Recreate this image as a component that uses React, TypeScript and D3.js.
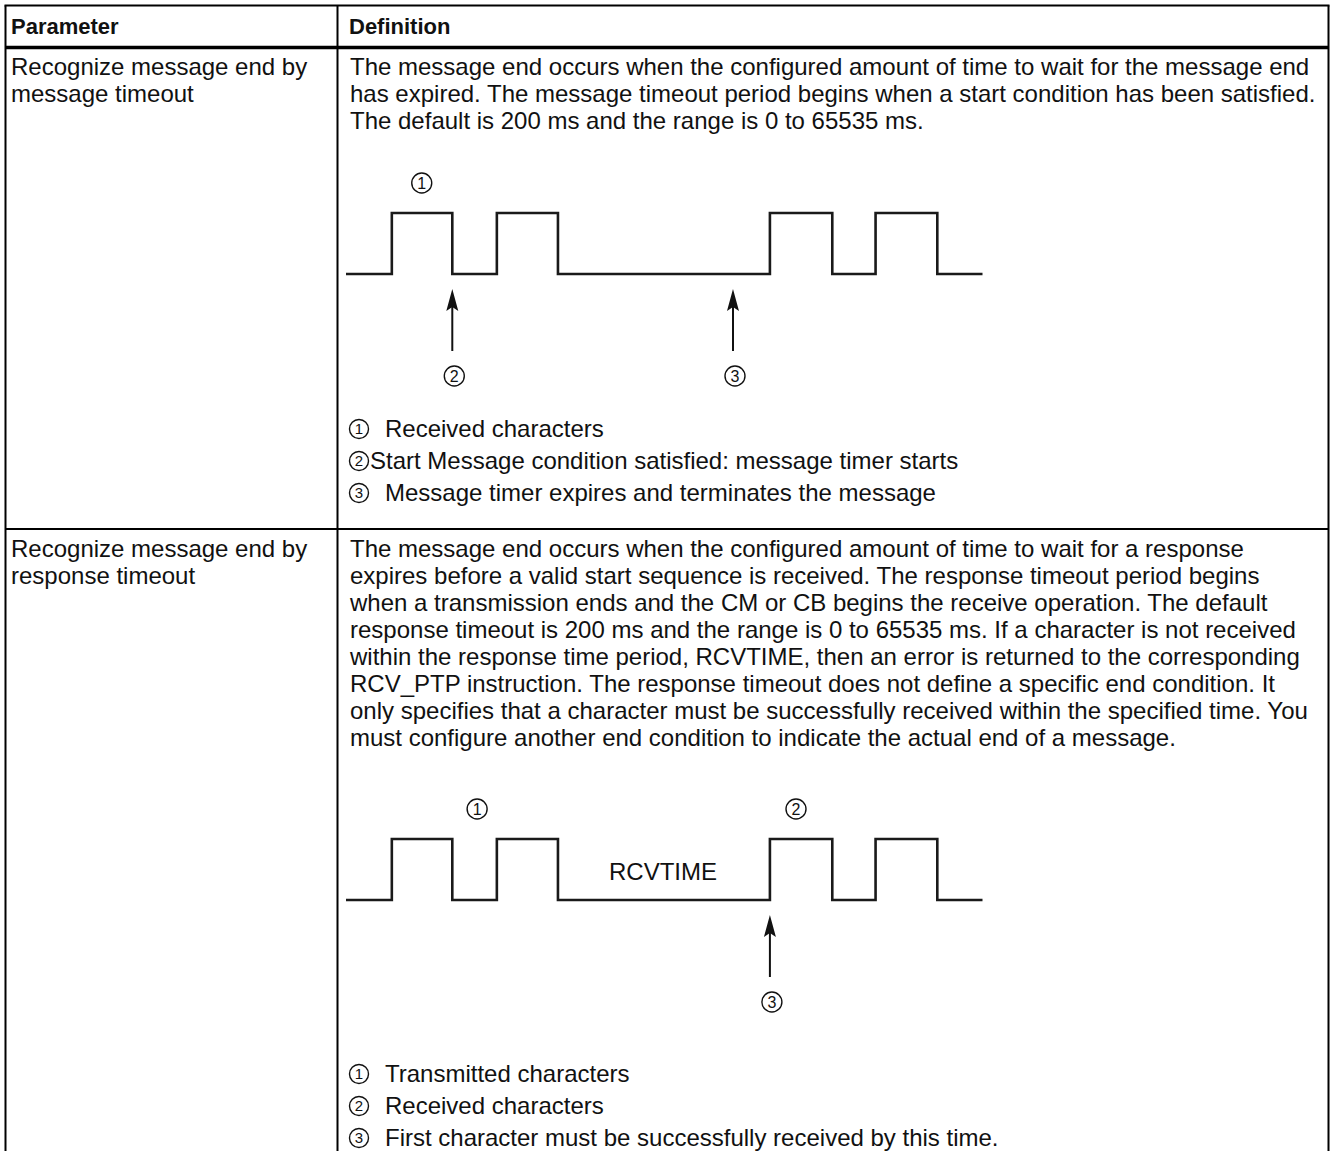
import * as d3 from "d3";

// table texts
const headers = ["Parameter", "Definition"];
const paramRow1 = ["Recognize message end by", "message timeout"];
const paramRow2 = ["Recognize message end by", "response timeout"];
const defRow1 = [
  "The message end occurs when the configured amount of time to wait for the message end",
  "has expired. The message timeout period begins when a start condition has been satisfied.",
  "The default is 200 ms and the range is 0 to 65535 ms.",
];
const defRow2 = [
  "The message end occurs when the configured amount of time to wait for a response",
  "expires before a valid start sequence is received. The response timeout period begins",
  "when a transmission ends and the CM or CB begins the receive operation. The default",
  "response timeout is 200 ms and the range is 0 to 65535 ms. If a character is not received",
  "within the response time period, RCVTIME, then an error is returned to the corresponding",
  "RCV_PTP instruction. The response timeout does not define a specific end condition. It",
  "only specifies that a character must be successfully received within the specified time. You",
  "must configure another end condition to indicate the actual end of a message.",
];
const legendRow1 = [
  { n: "1", text: "Received characters", gap: true },
  { n: "2", text: "Start Message condition satisfied: message timer starts", gap: false },
  { n: "3", text: "Message timer expires and terminates the message", gap: true },
];
const legendRow2 = [
  { n: "1", text: "Transmitted characters", gap: true },
  { n: "2", text: "Received characters", gap: true },
  { n: "3", text: "First character must be successfully received by this time.", gap: true },
];

// waveform: pulse start/end times on a 0..100 time axis
const pulses = [
  [7.2, 16.7],
  [23.7, 33.3],
  [66.6, 76.4],
  [83.2, 92.9],
];
// diagram 1 markers
const diag1Labels = [{ n: "1", t: 11.9 }];
const diag1Arrows = [
  { n: "2", t: 16.7 },
  { n: "3", t: 60.8 },
];
// diagram 2 markers
const diag2Labels = [
  { n: "1", t: 20.6 },
  { n: "2", t: 70.7 },
];
const diag2Arrows = [{ n: "3", t: 66.6 }];
const gapLabel = { text: "RCVTIME", t: 49.8 };

const FONT = "'Liberation Sans', Arial, Helvetica, sans-serif";
const W = 1330;
const H = 1151;
const FS = 24;
const LH = 27;

const x = d3.scaleLinear().domain([0, 100]).range([346, 982.5]);

const signal: [number, number][] = [[0, 0]];
pulses.forEach(([a, b]) => {
  signal.push([a, 1], [b, 0]);
});
signal.push([100, 0]);

function Circled({ cx, cy, n, r = 10, fs = 16 }: { cx: number; cy: number; n: string; r?: number; fs?: number }) {
  return (
    <g>
      <circle cx={cx} cy={cy} r={r} fill="none" stroke="#111" strokeWidth={1.4} />
      <text x={cx} y={cy + fs * 0.36} textAnchor="middle" fontSize={fs} fontFamily={FONT} fill="#111">
        {n}
      </text>
    </g>
  );
}

function Arrow({ ax, tip, tail }: { ax: number; tip: number; tail: number }) {
  return (
    <g>
      <line x1={ax} x2={ax} y1={tip + 14} y2={tail} stroke="#111" strokeWidth={2} />
      <path
        d={`M${ax},${tip} L${ax + 6},${tip + 22} L${ax},${tip + 18} L${ax - 6},${tip + 22} Z`}
        fill="#111"
      />
    </g>
  );
}

function Waveform({
  top,
  labels,
  arrows,
  tag,
}: {
  top: number;
  labels: { n: string; t: number }[];
  arrows: { n: string; t: number }[];
  tag?: { text: string; t: number };
}) {
  // top = y of the high level
  const y = d3.scaleLinear().domain([0, 1]).range([top + 61, top]);
  const line = d3
    .line<[number, number]>()
    .x((d) => x(d[0]))
    .y((d) => y(d[1]))
    .curve(d3.curveStepAfter);
  return (
    <g>
      {labels.map((l) => (
        <Circled key={l.n} cx={x(l.t)} cy={top - 30} n={l.n} />
      ))}
      <path d={line(signal) || ""} fill="none" stroke="#1a1a1a" strokeWidth={2.6} />
      {tag && (
        <text x={x(tag.t)} y={top + 41} textAnchor="middle" fontSize={FS} fontFamily={FONT} fill="#111">
          {tag.text}
        </text>
      )}
      {arrows.map((a) => (
        <g key={a.n}>
          <Arrow ax={x(a.t)} tip={top + 76} tail={top + 138} />
          <Circled cx={x(a.t) + 2} cy={top + 163} n={a.n} />
        </g>
      ))}
    </g>
  );
}

function Legend({ items, y0 }: { items: typeof legendRow1; y0: number }) {
  return (
    <g>
      {items.map((it, i) => {
        const by = y0 + i * 32;
        return (
          <g key={i}>
            <Circled cx={359} cy={by - 8} n={it.n} r={9.5} fs={15} />
            <text x={it.gap ? 385 : 370} y={by} fontSize={FS} fontFamily={FONT} fill="#111">
              {it.text}
            </text>
          </g>
        );
      })}
    </g>
  );
}

function Lines({ lines, x0, y0 }: { lines: string[]; x0: number; y0: number }) {
  return (
    <g>
      {lines.map((s, i) => (
        <text key={i} x={x0} y={y0 + i * LH} fontSize={FS} fontFamily={FONT} fill="#111">
          {s}
        </text>
      ))}
    </g>
  );
}

export default function App() {
  const left = 5.5;
  const right = 1328.5;
  const divX = 337.5;
  const top = 5.5;
  const headBottom = 47.5;
  const sep = 529;
  return (
    <div style={{ position: "absolute", left: 0, top: 0, background: "#fff" }}>
      <svg width={W} height={H} style={{ display: "block" }}>
        <rect width={W} height={H} fill="#fff" />
        {/* header */}
        <text x={11} y={34} fontSize={22} fontWeight="bold" fontFamily={FONT} fill="#111">
          {headers[0]}
        </text>
        <text x={349} y={34} fontSize={22} fontWeight="bold" fontFamily={FONT} fill="#111">
          {headers[1]}
        </text>

        {/* row 1 */}
        <Lines lines={paramRow1} x0={11} y0={75} />
        <Lines lines={defRow1} x0={350} y0={75} />
        <Waveform top={213} labels={diag1Labels} arrows={diag1Arrows} />
        <Legend items={legendRow1} y0={437} />

        {/* row 2 */}
        <Lines lines={paramRow2} x0={11} y0={557} />
        <Lines lines={defRow2} x0={350} y0={557} />
        <Waveform top={839} labels={diag2Labels} arrows={diag2Arrows} tag={gapLabel} />
        <Legend items={legendRow2} y0={1082} />

        {/* grid */}
        <g stroke="#000">
          <line x1={left - 1} x2={right + 1} y1={top} y2={top} strokeWidth={2} />
          <line x1={left} x2={left} y1={top} y2={H} strokeWidth={2} />
          <line x1={right} x2={right} y1={top} y2={H} strokeWidth={2} />
          <line x1={divX} x2={divX} y1={top} y2={H} strokeWidth={2} />
          <line x1={left} x2={right} y1={headBottom} y2={headBottom} strokeWidth={3.5} />
          <line x1={left} x2={right} y1={sep} y2={sep} strokeWidth={2} />
        </g>
      </svg>
    </div>
  );
}
